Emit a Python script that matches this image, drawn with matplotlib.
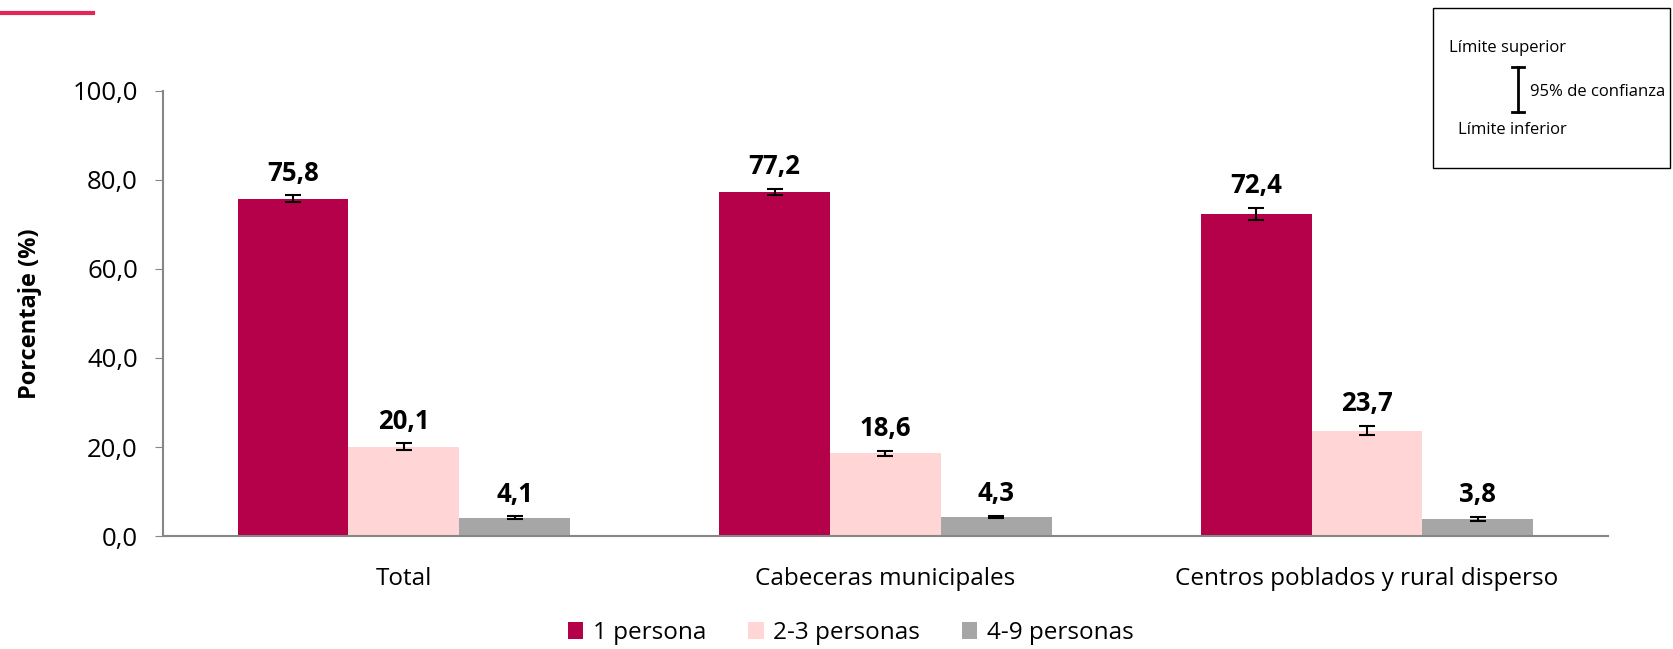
import matplotlib.pyplot as plt
import numpy as np

plt.rcParams['font.family'] = ['Open Sans', 'DejaVu Sans']

categories = ["Total", "Cabeceras municipales", "Centros poblados y rural disperso"]
series = ["1 persona", "2-3 personas", "4-9 personas"]
values = [
    [75.8, 77.2, 72.4],
    [20.1, 18.6, 23.7],
    [4.1, 4.3, 3.8],
]
errors = [
    [0.7, 0.7, 1.4],
    [0.7, 0.6, 1.0],
    [0.3, 0.3, 0.4],
]
colors = ["#b5004a", "#ffd5d5", "#a6a6a6"]

fig = plt.figure(figsize=(16.73, 6.49), dpi=100)
ax = fig.add_axes([0.0974, 0.174, 0.8636, 0.686])

x = np.arange(len(categories))
width = 0.23
for i, (name, vals, errs, c) in enumerate(zip(series, values, errors, colors)):
    pos = x + (i - 1) * width
    ax.bar(pos, vals, width, color=c, label=name, zorder=2)
    ax.errorbar(pos, vals, yerr=errs, fmt='none', ecolor='black',
                elinewidth=1.5, capsize=6, capthick=1.5, zorder=3)
    for p, v, e in zip(pos, vals, errs):
        ax.text(p, v + e + 2.0, f"{v:.1f}".replace('.', ','), ha='center', va='bottom',
                fontsize=18.5, fontweight='bold')

ax.set_xlim(-0.5, 2.5)
ax.set_ylim(0, 100)
ax.set_yticks(np.arange(0, 101, 20))
ax.set_yticklabels([f"{t:.1f}".replace('.', ',') for t in np.arange(0, 101, 20)], fontsize=18.5)
ax.set_xticks(x)
ax.set_xticklabels(categories, fontsize=17.5)
ax.tick_params(axis='x', length=0, pad=22)
ax.tick_params(axis='y', length=6, color='#868686', direction='out', pad=12)
for s in ['top', 'right']:
    ax.spines[s].set_visible(False)
for s in ['left', 'bottom']:
    ax.spines[s].set_color('#868686')
    ax.spines[s].set_linewidth(1.5)
ax.set_ylabel("Porcentaje (%)", fontsize=17, fontweight='bold', labelpad=22)

ax.legend(loc='center', bbox_to_anchor=(0.476, -0.218), ncol=3, frameon=False,
          fontsize=17.5, handlelength=0.65, handleheight=0.65, handletextpad=0.4,
          columnspacing=1.7, borderpad=0.1)

# decorative line top-left
fig.add_artist(plt.Line2D([0, 93 / 1673], [1 - 13 / 649, 1 - 13 / 649],
                          color='#e0275a', lw=3, transform=fig.transFigure))

# confidence interval key box
W, H = 1673, 649
fig.add_artist(plt.Rectangle((1433 / W, 1 - 168 / H), (1670 - 1433) / W, (168 - 8) / H,
                             fill=False, edgecolor='black', lw=1, transform=fig.transFigure))
fig.text(1449 / W, 1 - 48 / H, "Límite superior", fontsize=12, va='center', ha='left')
fig.text(1458 / W, 1 - 130 / H, "Límite inferior", fontsize=12, va='center', ha='left')
fig.text(1530 / W, 1 - 92 / H, "95% de confianza", fontsize=12, va='center', ha='left')
xb = 1518 / W
fig.add_artist(plt.Line2D([xb, xb], [1 - 67 / H, 1 - 112 / H], color='black', lw=2))
for yy in [67, 112]:
    fig.add_artist(plt.Line2D([xb - 6 / W, xb + 6 / W], [1 - yy / H, 1 - yy / H],
                              color='black', lw=2))

fig.savefig("out.png", dpi=100)
